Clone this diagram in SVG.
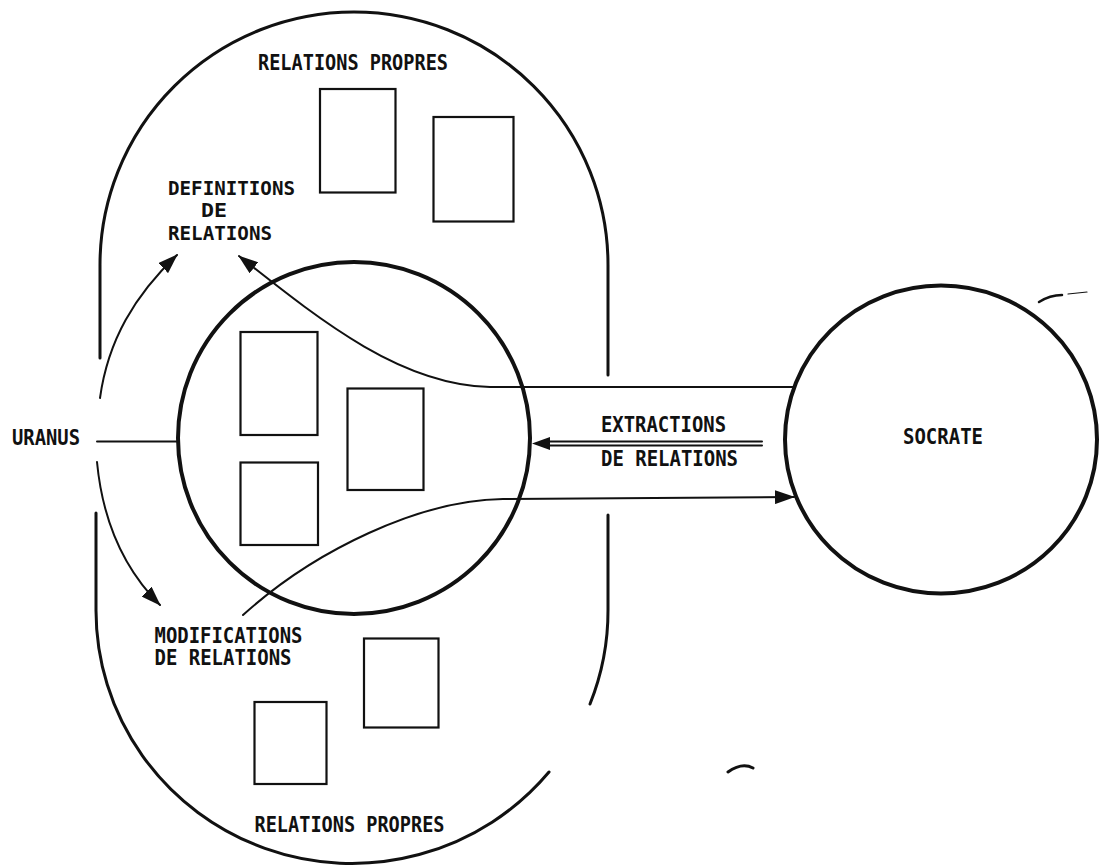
<svg xmlns="http://www.w3.org/2000/svg" width="1099" height="867" viewBox="0 0 1099 867">
<style>
  .ln { fill: none; stroke: #111; stroke-linecap: round; stroke-linejoin: round; }
  .outer { stroke-width: 3; }
  .core { stroke-width: 4; }
  .box { fill: none; stroke: #111; stroke-width: 2.2; }
  .con { fill: none; stroke: #111; stroke-width: 2; stroke-linecap: round; }
  .lbl { font-family: "DejaVu Sans Mono", "Liberation Mono", monospace; font-size: 21px; font-weight: bold; fill: #111; }
  .tight { font-size: 19px; }
  .mark { fill: none; stroke: #111; stroke-linecap: round; }
</style>
<defs>
  <marker id="ah" viewBox="0 0 20 14" refX="19" refY="7" markerWidth="20" markerHeight="14" markerUnits="userSpaceOnUse" orient="auto">
    <path d="M0,0 L20,7 L0,14 Z" fill="#111"/>
  </marker>
</defs>
<rect x="0" y="0" width="1099" height="867" fill="#fff"/>

<g id="uranus-domain">
  <path class="ln outer" d="M100,358 L100,265 A254,253 0 0 1 608,265 L608,375"/>
  <path class="ln outer" d="M96,513 L96,610 A256,253 0 0 0 549,772"/>
  <path class="ln outer" d="M608,515 L608,610 A256,253 0 0 1 590,704"/>
  <text class="lbl" x="258" y="70" textLength="190" lengthAdjust="spacingAndGlyphs">RELATIONS PROPRES</text>
  <text class="lbl" x="254.5" y="832" textLength="190" lengthAdjust="spacingAndGlyphs">RELATIONS PROPRES</text>
</g>

<g id="top-relations">
  <rect class="box" x="320" y="89" width="75.5" height="103.5"/>
  <rect class="box" x="433.5" y="117" width="80" height="104.5"/>
</g>

<g id="bottom-relations">
  <rect class="box" x="364" y="638.5" width="74.5" height="89"/>
  <rect class="box" x="254.5" y="702" width="72" height="82"/>
</g>

<g id="central-circle">
  <circle class="ln core" cx="354" cy="438" r="176"/>
  <rect class="box" x="240.5" y="332" width="77" height="103"/>
  <rect class="box" x="347.5" y="388.5" width="76" height="101.5"/>
  <rect class="box" x="240.5" y="462.5" width="77.5" height="82.5"/>
</g>

<g id="socrate">
  <ellipse class="ln core" cx="941" cy="439.5" rx="156" ry="154"/>
  <text class="lbl" x="903" y="444" textLength="80" lengthAdjust="spacingAndGlyphs">SOCRATE</text>
</g>

<g id="uranus">
  <text class="lbl" x="12" y="445" textLength="68" lengthAdjust="spacingAndGlyphs">URANUS</text>
</g>

<g id="definitions">
  <text class="lbl tight" x="168" y="194.5" textLength="127" lengthAdjust="spacingAndGlyphs">DEFINITIONS</text>
  <text class="lbl tight" x="201" y="217" textLength="26" lengthAdjust="spacingAndGlyphs">DE</text>
  <text class="lbl tight" x="168" y="239.5" textLength="104" lengthAdjust="spacingAndGlyphs">RELATIONS</text>
</g>

<g id="modifications">
  <text class="lbl" x="154.5" y="643" textLength="148" lengthAdjust="spacingAndGlyphs">MODIFICATIONS</text>
  <text class="lbl" x="154.5" y="665" textLength="137" lengthAdjust="spacingAndGlyphs">DE RELATIONS</text>
</g>

<g id="extractions">
  <text class="lbl" x="601" y="432" textLength="125" lengthAdjust="spacingAndGlyphs">EXTRACTIONS</text>
  <text class="lbl" x="601" y="466" textLength="137" lengthAdjust="spacingAndGlyphs">DE RELATIONS</text>
</g>

<g id="connectors">
  <line class="con" x1="97" y1="441.5" x2="178" y2="441.5" stroke-width="2.5"/>
  <path class="con" d="M100,398 C108,340 135,295 177,255" marker-end="url(#ah)"/>
  <path class="con" d="M97,462 C103,525 125,570 160,605" marker-end="url(#ah)"/>
  <path class="con" d="M793,387 L490,387 C400,385 320,320 239,256" marker-end="url(#ah)"/>
  <path class="con" d="M243,615 C315,550 420,500 503,499 L794,497" marker-end="url(#ah)"/>
  <path class="con" d="M762,441.5 H548 M762,445.5 H548"/>
  <path d="M532,443.5 L550,437 L550,450 Z" fill="#111"/>
</g>

<g id="scan-marks">
  <path class="mark" stroke-width="2.5" d="M1039,302 Q1050,295 1062,295"/>
  <path class="mark" stroke-width="1.2" d="M1068,294 L1087,292"/>
  <path class="mark" stroke-width="3" d="M728,772 Q742,762 753,768"/>
</g>
</svg>
